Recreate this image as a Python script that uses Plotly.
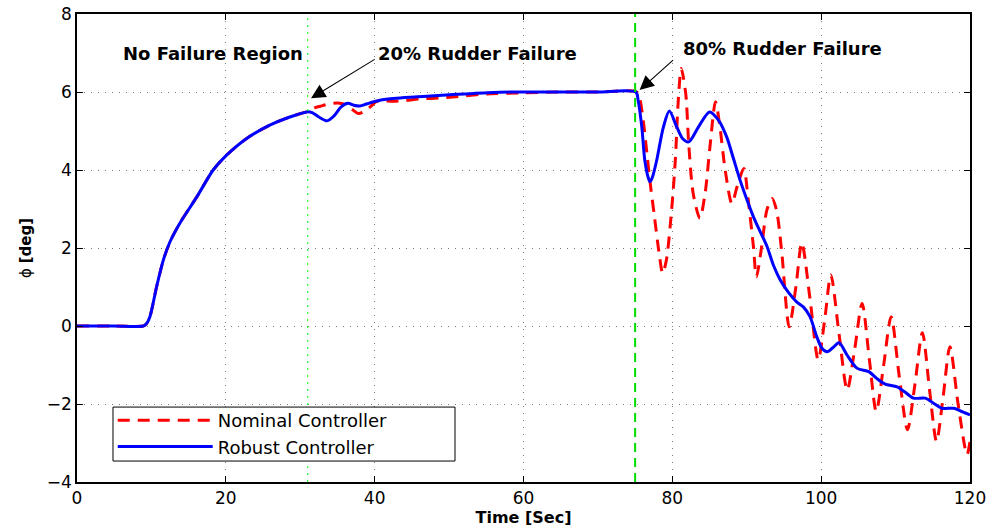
import plotly.graph_objects as go

# ---------------- data ----------------
t_robust = [0, 5, 8.9, 9.3, 9.8, 10.7, 11.6, 12.5, 13.8, 16.1, 18.3, 20.1, 22.8, 25.9,
            28.6, 30.9, 31.6, 32.5, 33.6, 34.5, 35.5, 36.4, 37.2, 38, 39, 40.7, 43, 47,
            51, 55.9, 60, 65, 70, 75.1, 75.4, 75.9, 76.3, 76.8, 77.0, 77.3, 77.9, 78.8,
            79.6, 80.6, 81.4, 82.2, 83.5, 85.0, 86.2, 87.3, 88.2, 89.1, 90.0, 90.9, 91.8,
            92.7, 93.6, 94.5, 95.6, 96.7, 97.6, 98.5, 99.4, 100.1, 100.8, 101.6, 102.4,
            103.5, 104.8, 106.4, 107.5, 108.6, 110.2, 111.3, 112.4, 114.0, 115.1, 116.2,
            117.8, 119.0, 120]
phi_robust = [0, 0, 0, 0.05, 0.24, 1.01, 1.69, 2.16, 2.63, 3.31, 4.0, 4.38, 4.81, 5.15,
              5.36, 5.49, 5.47, 5.36, 5.26, 5.38, 5.62, 5.71, 5.66, 5.64, 5.70, 5.79, 5.84,
              5.89, 5.94, 5.99, 6.0, 6.0, 6.0, 6.0, 5.79, 5.10, 4.25, 3.78, 3.70, 3.80,
              4.25, 5.10, 5.51, 5.10, 4.80, 4.72, 5.10, 5.49, 5.28, 4.85, 4.30, 3.74, 3.25,
              2.80, 2.42, 2.05, 1.55, 1.18, 0.86, 0.62, 0.49, 0.24, -0.27, -0.57, -0.66,
              -0.55, -0.43, -0.75, -1.08, -1.17, -1.35, -1.49, -1.56, -1.70, -1.85, -1.85,
              -1.98, -2.11, -2.11, -2.20, -2.28]

t_nominal = [0, 5, 8.9, 9.3, 9.8, 10.7, 11.6, 12.5, 13.8, 16.1, 18.3, 20.1, 22.8, 25.9,
             28.6, 30.9, 32, 33, 34, 35, 36, 37, 37.8, 38.6, 39.4, 40.2, 41, 42.5, 44, 46,
             49, 52, 55, 60, 65, 70, 75.2, 75.6, 76.1, 76.6, 77.0, 77.6, 78.2, 78.7, 79.2,
             79.9, 80.4, 80.8, 81.2, 81.8, 82.2, 82.8, 83.7, 84.4, 85.1, 85.8, 86.4, 87.1,
             88.0, 88.7, 89.6, 90.2, 90.9, 91.3, 92.0, 92.7, 93.4, 94.0, 94.7, 95.7, 96.6,
             97.4, 98.5, 99.6, 100.5, 101.3, 102.4, 103.5, 104.5, 105.5, 106.5, 107.4,
             108.4, 109.4, 110.5, 111.6, 112.6, 113.6, 114.6, 115.5, 116.4, 117.3, 118.4,
             119.6, 120]
phi_nominal = [0, 0, 0, 0.05, 0.24, 1.01, 1.69, 2.16, 2.63, 3.31, 4.0, 4.38, 4.81, 5.15,
               5.36, 5.50, 5.60, 5.65, 5.70, 5.72, 5.68, 5.55, 5.45, 5.50, 5.62, 5.75,
               5.78, 5.76, 5.78, 5.82, 5.85, 5.90, 5.95, 5.98, 6.0, 6.0, 6.0, 5.85, 5.25,
               4.40, 3.70, 2.80, 1.90, 1.35, 1.69, 2.97, 4.25, 5.79, 6.60, 5.96, 4.68, 3.40,
               2.76, 3.40, 4.68, 5.75, 5.10, 4.00, 3.14, 3.57, 4.04, 3.23, 2.03, 1.26, 2.03,
               2.97, 3.27, 2.97, 1.90, -0.02, 1.00, 2.13, 0.70, -0.87, 0.20, 1.31, -0.20,
               -1.64, -0.60, 0.58, -0.90, -2.19, -1.00, 0.24, -1.30, -2.66, -1.50, -0.17,
               -1.70, -2.96, -1.80, -0.53, -2.00, -3.30, -2.96]

failure_times = [31, 75]
x_ticks = [0, 20, 40, 60, 80, 100, 120]
y_ticks = [-4, -2, 0, 2, 4, 6, 8]

FONT = "DejaVu Sans, Liberation Sans, Arial, sans-serif"

fig = go.Figure()
fig.add_trace(go.Scatter(
    x=t_nominal, y=phi_nominal, mode="lines", name="Nominal Controller",
    line=dict(color="#ff0000", width=3, dash="12px,8px", shape="spline", smoothing=0.8),
))
fig.add_trace(go.Scatter(
    x=t_robust, y=phi_robust, mode="lines", name="Robust Controller",
    line=dict(color="#0000ff", width=3, shape="spline", smoothing=0.8),
))

# failure instants
fig.add_shape(type="line", x0=failure_times[0], x1=failure_times[0], y0=-4, y1=8,
              xref="x", yref="y", line=dict(color="#00ff00", width=1, dash="2px,5px"))
fig.add_shape(type="line", x0=failure_times[1], x1=failure_times[1], y0=-4, y1=8,
              xref="x", yref="y", line=dict(color="#00dd00", width=2, dash="9px,6px"))

# legend frame (white box with black border, drawn above the curves)
fig.add_shape(type="rect", xref="paper", yref="paper",
              x0=0.0403, x1=0.4233, y0=0.0448, y1=0.1601,
              fillcolor="white", line=dict(color="black", width=1), layer="above")

# texts
ann_font = dict(size=18, color="black", family=FONT)
fig.add_annotation(x=18.3, y=6.99, text="<b>No Failure Region</b>", showarrow=False, font=ann_font)
fig.add_annotation(x=53.8, y=7.0, text="<b>20% Rudder Failure</b>", showarrow=False, font=ann_font)
fig.add_annotation(x=94.8, y=7.12, text="<b>80% Rudder Failure</b>", showarrow=False, font=ann_font)
# arrows
fig.add_annotation(x=31.45, y=5.84, ax=40.2, ay=6.86, axref="x", ayref="y", text="",
                   showarrow=True, arrowhead=2, arrowsize=2.6, arrowwidth=1.1, arrowcolor="black")
fig.add_annotation(x=75.6, y=6.05, ax=80.3, ay=6.85, axref="x", ayref="y", text="",
                   showarrow=True, arrowhead=2, arrowsize=2.6, arrowwidth=1.1, arrowcolor="black")

axis_common = dict(
    showline=True, linecolor="black", linewidth=1.5, mirror="ticks",
    ticks="inside", ticklen=6, tickcolor="black",
    showgrid=True, gridcolor="#7a7a7a", gridwidth=1, griddash="1px,6px",
    zeroline=False, tickfont=dict(size=17, color="black", family=FONT),
    automargin=False, ticklabeloverflow="allow",
)

fig.update_xaxes(range=[0, 120], tickvals=x_ticks,
                 title=dict(text="<b>Time [Sec]</b>", font=dict(size=16, color="black", family=FONT),
                            standoff=4),
                 **axis_common)
fig.update_yaxes(range=[-4, 8], tickvals=y_ticks,
                 title=dict(text="ϕ <b>[deg]</b>", font=dict(size=15, color="black", family=FONT),
                            standoff=12),
                 **axis_common)

fig.update_layout(
    width=992, height=531,
    margin=dict(l=77, r=22, t=14, b=49, autoexpand=False),
    paper_bgcolor="white", plot_bgcolor="white",
    font=dict(family=FONT, color="black"),
    showlegend=True,
    legend=dict(x=0.04, y=0.171, xanchor="left", yanchor="top",
                bgcolor="rgba(0,0,0,0)", borderwidth=0,
                font=dict(size=18, color="black", family=FONT),
                itemwidth=95, tracegroupgap=0),
)

# remove the browser's default 8px page margin so the figure fills the window exactly
fig.write_html("out.html", config={"displayModeBar": False},
               post_script="document.body.style.margin='0px';")
